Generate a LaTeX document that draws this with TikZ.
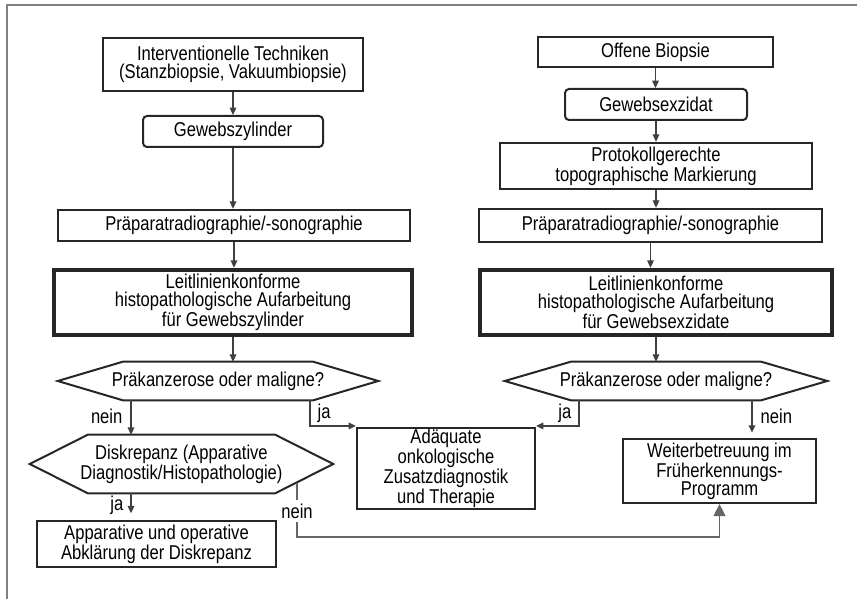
\documentclass[tikz,border=0pt]{standalone}
\usepackage{fontspec}
\setmainfont{Liberation Sans}[FakeStretch=0.83]
\usetikzlibrary{arrows.meta,calc}

\begin{document}
\begin{tikzpicture}[x=0.75pt,y=-0.75pt,
        every node/.style={font=\fontsize{15}{13.6}\selectfont, align=center, inner sep=0pt},
        box/.style={draw=black!85, line width=1.9pt},
        softbox/.style={box, line width=1.5pt, rounded corners=3pt},
        heavybox/.style={draw=black!85, line width=3.4pt},
        hexline/.style={draw=black!85, line width=1.5pt},
        lbl/.style={inner sep=1pt},
        arr/.style={draw=black!75, line width=0.9pt, -{Triangle[width=5pt,length=5.5pt]}},
        bigarr/.style={draw=black!60, line width=0.9pt, -{Triangle[width=9pt,length=9pt]}},
        frame/.style={draw=black!50, line width=1.5pt}]

        \useasboundingbox (0,0) rectangle (857,599);
        \draw[frame] (7,599) -- (7,5) -- (857,5);

        % Left column
        \node[box, minimum width=195pt, minimum height=39.75pt] (intv) at (233,64.5) {Interventionelle Techniken\\(Stanzbiopsie, Vakuumbiopsie)};
        \node[softbox, minimum width=135pt, minimum height=23.25pt] (zyl) at (233,131.5) {Gewebszylinder};
        \node[box, minimum width=264pt, minimum height=23.25pt] (praepL) at (234,225.5) {Präparatradiographie/-sonographie};
        \node[heavybox, minimum width=268.5pt, minimum height=48.75pt] (leitL) at (233,302.5) {Leitlinienkonforme\\histopathologische Aufarbeitung\\für Gewebszylinder};
        \node[minimum width=240pt, minimum height=28.5pt] (hexL) at (218,381) {Präkanzerose oder maligne?};
        \node[minimum width=227.25pt, minimum height=43.5pt] (hexD) at (181.5,464) {Diskrepanz (Apparative\\Diagnostik/Histopathologie)};
        \node[box, line width=1.6pt, minimum width=179.25pt, minimum height=34.5pt] (appar) at (156.5,544) {Apparative und operative\\Abklärung der Diskrepanz};

        % Right column
        \node[box, minimum width=176.25pt, minimum height=22.5pt] (offen) at (655.5,52) {Offene Biopsie};
        \node[softbox, minimum width=136.5pt, minimum height=23.25pt] (exz) at (656,104.5) {Gewebsexzidat};
        \node[box, minimum width=234pt, minimum height=34.5pt] (proto) at (656,166) {Protokollgerechte\\topographische Markierung};
        \node[box, minimum width=257.25pt, minimum height=24.75pt] (praepR) at (650.5,225.5) {Präparatradiographie/-sonographie};
        \node[heavybox, minimum width=264pt, minimum height=48.75pt] (leitR) at (656,302.5) {Leitlinienkonforme\\histopathologische Aufarbeitung\\für Gewebsexzidate};
        \node[minimum width=241.5pt, minimum height=28.5pt] (hexR) at (666,381) {Präkanzerose oder maligne?};
        \node[box, line width=1.6pt, minimum width=144.75pt, minimum height=48pt] (weiter) at (719.5,471) {Weiterbetreuung im\\Früherkennungs-\\Programm};

        % Middle
        \node[box, line width=1.6pt, minimum width=133.5pt, minimum height=60.75pt] (adaeq) at (446,468.5) {Adäquate\\onkologische\\Zusatzdiagnostik\\und Therapie};

        % Draw hexagons
        \foreach \h/\d in {hexL/65, hexR/66, hexD/58} {
            \draw[hexline] (\h.west) -- ($(\h.north west)+(\d,0)$) -- ($(\h.north east)+(-\d,0)$)
                -- (\h.east) -- ($(\h.south east)+(-\d,0)$) -- ($(\h.south west)+(\d,0)$) -- cycle;
        }

        % Straight arrows
        \foreach \a/\b in {intv/zyl, zyl/praepL, praepL/leitL, leitL/hexL,
                           offen/exz, exz/proto, proto/praepR, praepR/leitR, leitR/hexR} {
            \draw[arr] (\a.south) -- (\a.south |- \b.north);
        }

        % Decisions
        \draw[arr] ($(hexL.south)+(-87,0)$) coordinate (nL) -- (nL |- hexD.north);
        \draw[arr] ($(hexL.south)+(92,0)$) |- ($(adaeq.north west)+(0,-1)$);
        \draw[arr] ($(hexR.south)+(-87,0)$) |- ($(adaeq.north east)+(0,-1)$);
        \draw[arr, shorten >=4pt] ($(hexR.south)+(86,0)$) coordinate (nR) -- (nR |- weiter.north);
        \draw[arr, shorten >=5pt] ($(hexD.south)+(-50.5,0)$) coordinate (jD) -- (jD |- appar.north);
        \draw[bigarr] ($(hexD.center)+(115.5,18.5)$) -- ($(hexD.center)+(115.5,73)$) -| (weiter.south);

        % Labels
        \node[lbl, anchor=east] (lnL) at (124,416) {nein};
        \node[lbl, anchor=west] (ljL) at (316,413) {ja};
        \node[lbl, anchor=east] (ljR) at (573,413) {ja};
        \node[lbl, anchor=west] (lnR) at (759,416) {nein};
        \node[lbl, anchor=east] (ljD) at (125,505) {ja};
        \node[lbl, fill=white, inner sep=3pt] (lnD) at (297,511) {nein};
    \end{tikzpicture}
\end{document}
